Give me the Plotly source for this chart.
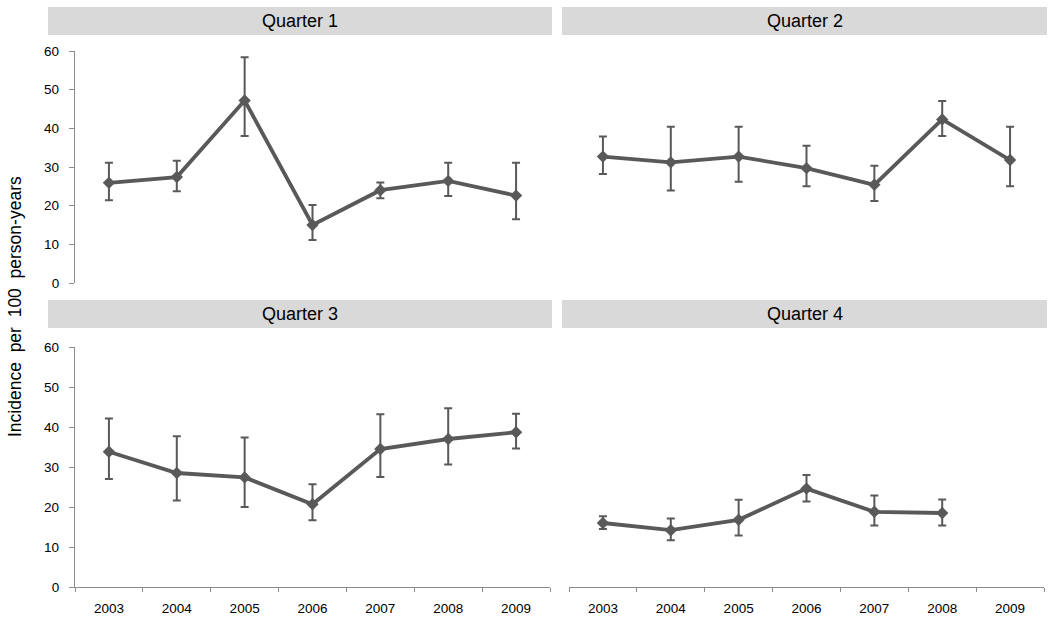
import plotly.graph_objects as go

years = ["2003", "2004", "2005", "2006", "2007", "2008", "2009"]
panel_titles = ["Quarter 1", "Quarter 2", "Quarter 3", "Quarter 4"]

q1_val = [25.9, 27.4, 47.2, 15.0, 24.0, 26.4, 22.6]
q1_hi = [31.1, 31.6, 58.4, 20.2, 26.0, 31.1, 31.1]
q1_lo = [21.4, 23.7, 38.0, 11.1, 21.9, 22.5, 16.5]

q2_val = [32.7, 31.2, 32.7, 29.7, 25.4, 42.3, 31.8]
q2_hi = [37.9, 40.4, 40.4, 35.5, 30.3, 47.1, 40.4]
q2_lo = [28.2, 23.9, 26.2, 25.0, 21.2, 38.0, 25.0]

q3_val = [33.8, 28.5, 27.4, 20.7, 34.5, 37.0, 38.7]
q3_hi = [42.1, 37.7, 37.4, 25.7, 43.2, 44.7, 43.3]
q3_lo = [27.0, 21.6, 20.0, 16.7, 27.5, 30.6, 34.6]

q4_val = [16.0, 14.2, 16.8, 24.6, 18.8, 18.5, None]
q4_hi = [17.7, 17.1, 21.8, 28.0, 22.9, 21.9, None]
q4_lo = [14.5, 11.7, 12.9, 21.4, 15.4, 15.4, None]

series = [(q1_val, q1_hi, q1_lo), (q2_val, q2_hi, q2_lo),
          (q3_val, q3_hi, q3_lo), (q4_val, q4_hi, q4_lo)]

W, H = 1050, 620
LINE = "#595959"
AXIS = "#8c8c8c"
FONT = "Liberation Sans, Arial, sans-serif"

def px_x(p):
    return p / W

def px_y(p):
    return 1 - p / H

# plot area domains (pixel based)
xdom = [(75, 550), (569, 1044), (75, 550), (569, 1044)]
ydom = [(51, 283), (51, 283), (347, 587), (347, 587)]
strips_x = [(48, 552), (562, 1047), (48, 552), (562, 1047)]
strips_y = [(7, 35), (7, 35), (300, 328), (300, 328)]

fig = go.Figure()
for i, (v, hi, lo) in enumerate(series):
    up = [(h - m) if m is not None else 0 for h, m in zip(hi, v)]
    dn = [(m - l) if m is not None else 0 for l, m in zip(lo, v)]
    ax = "" if i == 0 else str(i + 1)
    fig.add_trace(go.Scatter(
        x=years, y=v, mode="lines+markers",
        line=dict(color=LINE, width=3.8),
        marker=dict(symbol="diamond", size=9.5, color=LINE),
        error_y=dict(type="data", symmetric=False, array=up, arrayminus=dn,
                     color=LINE, thickness=2, width=4),
        xaxis="x" + ax, yaxis="y" + ax, showlegend=False,
        connectgaps=False,
    ))

layout = dict(
    width=W, height=H,
    margin=dict(l=0, r=0, t=0, b=0, pad=0, autoexpand=False),
    paper_bgcolor="white", plot_bgcolor="white",
    font=dict(family=FONT, size=13, color="#000000"),
    showlegend=False,
)

for i in range(4):
    ax = "" if i == 0 else str(i + 1)
    bottom = i >= 2
    left = i in (0, 2)
    layout["xaxis" + ax] = dict(
        domain=[px_x(xdom[i][0]), px_x(xdom[i][1])],
        anchor="y" + ax,
        type="category", categoryorder="array", categoryarray=years,
        range=[-0.5, 6.5], automargin=False,
        showline=bottom, linecolor=AXIS, linewidth=1.3,
        ticks="outside" if bottom else "", tickson="boundaries",
        ticklen=4, tickcolor=AXIS, tickwidth=1.3,
        showticklabels=bottom, ticklabelstandoff=9,
        tickfont=dict(family=FONT, size=13.5, color="#000000"),
        showgrid=False, zeroline=False, fixedrange=True,
    )
    layout["yaxis" + ax] = dict(
        domain=[px_y(ydom[i][1]), px_y(ydom[i][0])],
        anchor="x" + ax,
        range=[0, 60], tickvals=[0, 10, 20, 30, 40, 50, 60], automargin=False,
        showline=left, linecolor=AXIS, linewidth=1.3,
        ticks="outside" if left else "", ticklen=5, tickcolor=AXIS, tickwidth=1.3,
        showticklabels=left, ticklabelstandoff=7,
        tickfont=dict(family=FONT, size=13.5, color="#000000"),
        showgrid=False, zeroline=False, fixedrange=True,
    )

shapes = []
annotations = []
for i in range(4):
    x0, x1 = strips_x[i]
    y0, y1 = strips_y[i]
    shapes.append(dict(type="rect", xref="paper", yref="paper",
                       x0=px_x(x0), x1=px_x(x1), y0=px_y(y1), y1=px_y(y0),
                       fillcolor="#d9d9d9", line=dict(width=0), layer="below"))
    annotations.append(dict(text=panel_titles[i], xref="paper", yref="paper",
                            x=px_x((x0 + x1) / 2), y=px_y((y0 + y1) / 2),
                            xanchor="center", yanchor="middle", showarrow=False,
                            font=dict(family=FONT, size=18, color="#000000")))

annotations.append(dict(text="Incidence  per  100  person-years", xref="paper", yref="paper",
                        x=px_x(15), y=px_y(307), xanchor="center", yanchor="middle",
                        textangle=-90, showarrow=False,
                        font=dict(family=FONT, size=17.5, color="#000000")))

layout["shapes"] = shapes
layout["annotations"] = annotations
fig.update_layout(**layout)

post = (
    "document.documentElement.style.cssText='margin:0;padding:0;overflow:hidden;height:620px;';"
    "document.body.style.cssText='margin:0;padding:0;overflow:hidden;height:620px;';"
    "var gd=document.getElementById('{plot_id}');"
    "gd.style.display='block';gd.style.position='absolute';gd.style.left='0px';gd.style.top='0px';"
)
fig.write_html("out.html", config={"displayModeBar": False}, post_script=post)
